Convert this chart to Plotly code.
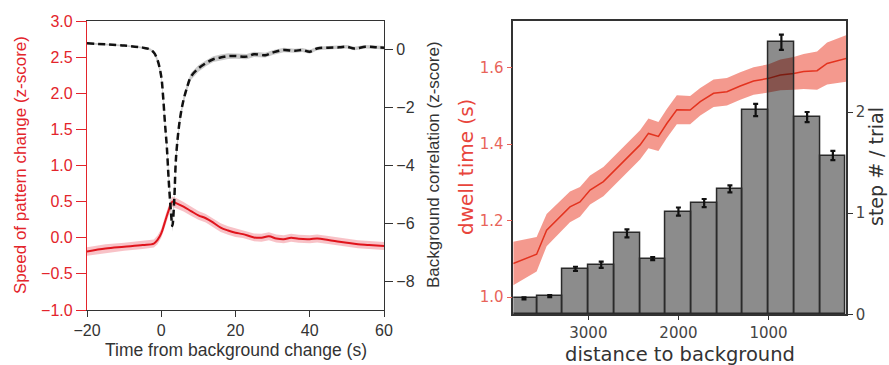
import plotly.graph_objects as go

# ---------------- Left panel data ----------------
t_speed = [-20, -15, -10, -5, -2, -1, 0, 1, 2, 3, 4, 6, 8, 10, 12, 14, 16, 18, 20, 22, 25, 27, 29, 31, 33, 35, 37, 40, 42, 45, 48, 50, 53, 56, 60]
speed = [-0.19, -0.15, -0.125, -0.10, -0.08, -0.03, 0.06, 0.22, 0.38, 0.50, 0.48, 0.43, 0.37, 0.31, 0.27, 0.21, 0.14, 0.10, 0.07, 0.05, 0.005, 0.0, 0.02, -0.01, -0.02, 0.0, -0.015, -0.02, -0.01, -0.03, -0.055, -0.07, -0.09, -0.10, -0.115]
speed_err = [0.06, 0.06, 0.055, 0.055, 0.055, 0.06, 0.06, 0.07, 0.07, 0.07, 0.07, 0.065, 0.065, 0.06, 0.06, 0.06, 0.06, 0.06, 0.06, 0.055, 0.055, 0.055, 0.055, 0.055, 0.055, 0.055, 0.055, 0.055, 0.055, 0.055, 0.055, 0.055, 0.055, 0.055, 0.055]

t_corr = [-20, -10, -5, -3, -2, -1, 0, 0.5, 1, 1.5, 2, 2.5, 3, 3.5, 4, 5, 6, 7, 8, 10, 12, 14, 16, 18, 20, 23, 25, 28, 30, 33, 36, 38, 40, 42, 45, 48, 50, 52, 55, 58, 60]
corr = [0.21, 0.13, 0.06, 0.0, -0.11, -0.37, -0.94, -1.63, -2.55, -3.36, -4.5, -5.43, -6.1, -5.2, -3.7, -2.44, -1.75, -1.29, -0.94, -0.66, -0.48, -0.34, -0.28, -0.23, -0.23, -0.25, -0.17, -0.2, -0.11, -0.02, -0.05, -0.02, -0.08, 0.03, 0.06, 0.07, 0.09, 0.03, 0.09, 0.07, 0.06]
corr_err = [0.03, 0.03, 0.03, 0.04, 0.05, 0.08, 0.12, 0.15, 0.18, 0.2, 0.2, 0.2, 0.2, 0.2, 0.18, 0.15, 0.13, 0.12, 0.12, 0.11, 0.1, 0.1, 0.1, 0.1, 0.09, 0.09, 0.09, 0.08, 0.08, 0.08, 0.07, 0.07, 0.07, 0.06, 0.06, 0.06, 0.06, 0.06, 0.06, 0.06, 0.06]

# ---------------- Right panel data ----------------
dist_line = [3834, 3574, 3463, 3315, 3204, 3093, 2981, 2833, 2722, 2574, 2426, 2333, 2222, 2129, 2018, 1870, 1758, 1610, 1462, 1314, 1166, 1000, 869, 721, 610, 461, 350, 135]
dwell = [1.088, 1.112, 1.175, 1.21, 1.236, 1.249, 1.28, 1.302, 1.328, 1.363, 1.398, 1.428, 1.42, 1.454, 1.49, 1.489, 1.511, 1.533, 1.537, 1.552, 1.565, 1.572, 1.581, 1.585, 1.59, 1.592, 1.611, 1.624]
dwell_err = [0.057, 0.045, 0.042, 0.04, 0.04, 0.039, 0.038, 0.038, 0.038, 0.038, 0.038, 0.039, 0.038, 0.038, 0.038, 0.037, 0.036, 0.036, 0.036, 0.036, 0.036, 0.037, 0.04, 0.043, 0.046, 0.05, 0.055, 0.061]

bin_width = 4000 / 14
bin_idx = [13, 12, 11, 10, 9, 8, 7, 6, 5, 4, 3, 2, 1]
steps = [0.157, 0.18, 0.45, 0.49, 0.80, 0.55, 1.016, 1.10, 1.24, 2.02, 2.69, 1.95, 1.57]
steps_err = [0.01, 0.01, 0.02, 0.03, 0.04, 0.015, 0.04, 0.04, 0.035, 0.06, 0.075, 0.05, 0.045]
bin_centers = [k * bin_width for k in bin_idx]

W, H = 889, 365
def px(x):
    return x / W
def py(y):
    return 1 - y / H

LEFT_FONT = "Liberation Sans, Arial, sans-serif"
RIGHT_FONT = "DejaVu Sans, sans-serif"
RED = "#e3242b"

fig = go.Figure()

# left panel: red band + line
fig.add_trace(go.Scatter(x=t_speed, y=[s - e for s, e in zip(speed, speed_err)], mode="lines",
                         line=dict(width=0), xaxis="x", yaxis="y", showlegend=False, hoverinfo="skip"))
fig.add_trace(go.Scatter(x=t_speed, y=[s + e for s, e in zip(speed, speed_err)], mode="lines",
                         line=dict(width=0), fill="tonexty", fillcolor="rgba(240,120,130,0.45)",
                         xaxis="x", yaxis="y", showlegend=False, hoverinfo="skip"))
fig.add_trace(go.Scatter(x=t_speed, y=speed, mode="lines", line=dict(color="#e0141c", width=2),
                         xaxis="x", yaxis="y", showlegend=False, line_shape="spline"))

# left panel: black dashed band + line (right axis)
fig.add_trace(go.Scatter(x=t_corr, y=[c - e for c, e in zip(corr, corr_err)], mode="lines",
                         line=dict(width=0), xaxis="x", yaxis="y2", showlegend=False, hoverinfo="skip"))
fig.add_trace(go.Scatter(x=t_corr, y=[c + e for c, e in zip(corr, corr_err)], mode="lines",
                         line=dict(width=0), fill="tonexty", fillcolor="rgba(150,150,150,0.5)",
                         xaxis="x", yaxis="y2", showlegend=False, hoverinfo="skip"))
fig.add_trace(go.Scatter(x=t_corr, y=corr, mode="lines", line=dict(color="#111111", width=2.5, dash="7px,4px"),
                         xaxis="x", yaxis="y2", showlegend=False, line_shape="spline"))

# right panel: dwell band + line
fig.add_trace(go.Scatter(x=dist_line, y=[d - e for d, e in zip(dwell, dwell_err)], mode="lines",
                         line=dict(width=0), xaxis="x2", yaxis="y3", showlegend=False, hoverinfo="skip"))
fig.add_trace(go.Scatter(x=dist_line, y=[d + e for d, e in zip(dwell, dwell_err)], mode="lines",
                         line=dict(width=0), fill="tonexty", fillcolor="rgba(238,90,72,0.62)",
                         xaxis="x2", yaxis="y3", showlegend=False, hoverinfo="skip"))
fig.add_trace(go.Scatter(x=dist_line, y=dwell, mode="lines", line=dict(color="#e3331f", width=1.5),
                         xaxis="x2", yaxis="y3", showlegend=False))

# right panel: bars
fig.add_trace(go.Bar(x=bin_centers, y=steps, width=bin_width,
                     marker=dict(color="rgba(0,0,0,0.45)", line=dict(color="#2a2a2a", width=1.5)),
                     error_y=dict(type="data", array=steps_err, color="#111111", thickness=2.2, width=2.5),
                     xaxis="x2", yaxis="y4", showlegend=False))

common = dict(ticks="outside", showgrid=False, zeroline=False, automargin=False)

def label(text, x, y, font, size, color, angle=0):
    return dict(text=text, x=px(x), y=py(y), xref="paper", yref="paper", xanchor="center",
                yanchor="middle", textangle=angle, showarrow=False,
                font=dict(family=font, size=size, color=color))

fig.update_layout(
    width=W, height=H,
    margin=dict(l=0, r=0, t=0, b=0, autoexpand=False),
    paper_bgcolor="white", plot_bgcolor="white",
    showlegend=False,
    bargap=0,
    xaxis=dict(domain=[px(87), px(384)], range=[-20, 60], tickvals=[-20, 0, 20, 40, 60],
               anchor="y", showline=True, linecolor="#333333", linewidth=1.3, mirror=True,
               ticklen=6, tickcolor="#333333", tickfont=dict(family=LEFT_FONT, size=16, color="#333333"),
               **common),
    yaxis=dict(domain=[py(310), py(21)], range=[-1, 3], tickvals=[-1, -0.5, 0, 0.5, 1, 1.5, 2, 2.5, 3],
               tickformat=".1f", anchor="x", showline=True, linecolor=RED, linewidth=1.3,
               ticklen=10, tickcolor=RED, tickfont=dict(family=LEFT_FONT, size=16, color=RED),
               **common),
    yaxis2=dict(range=[-9.0, 0.98], tickvals=[0, -2, -4, -6, -8], overlaying="y", side="right", anchor="x",
                showline=True, linecolor="#333333", linewidth=1.3,
                ticklen=8, tickcolor="#333333", tickfont=dict(family=LEFT_FONT, size=16, color="#333333"),
                **common),
    xaxis2=dict(domain=[px(513.3), px(846)], range=[3833, 140], tickvals=[3000, 2000, 1000],
                anchor="y3", showline=True, linecolor="#333333", linewidth=1.5, mirror=True,
                ticklen=4, tickcolor="#333333",
                tickfont=dict(family=RIGHT_FONT, size=15, color="#444444"), **common),
    yaxis3=dict(domain=[py(314.3), py(21)], range=[0.955, 1.722], tickvals=[1.0, 1.2, 1.4, 1.6],
                tickformat=".1f", anchor="x2", showline=True, linecolor="#333333", linewidth=1.5,
                ticklen=5, tickcolor="#e8645a",
                tickfont=dict(family=RIGHT_FONT, size=15, color="#e8645a"), **common),
    yaxis4=dict(range=[0, 2.9], tickvals=[0, 1, 2], overlaying="y3", side="right", anchor="x2",
                showline=True, linecolor="#333333", linewidth=1.5,
                ticklen=5, tickcolor="#333333",
                tickfont=dict(family=RIGHT_FONT, size=15, color="#444444"), **common),
    annotations=[
        label("Speed of pattern change (z-score)", 20, 165, LEFT_FONT, 17, RED, -90),
        label("Background correlation (z-score)", 433, 165, LEFT_FONT, 17, "#333333", -90),
        label("Time from background change (s)", 236, 350, LEFT_FONT, 17.5, "#333333"),
        label("dwell time (s)", 466, 167, RIGHT_FONT, 20, "#e8453c", -90),
        label("step # / trial", 876, 167, RIGHT_FONT, 19, "#333333", -90),
        label("distance to background", 680, 354, RIGHT_FONT, 19.5, "#333333"),
    ],
)

fig.write_html("out.html")
